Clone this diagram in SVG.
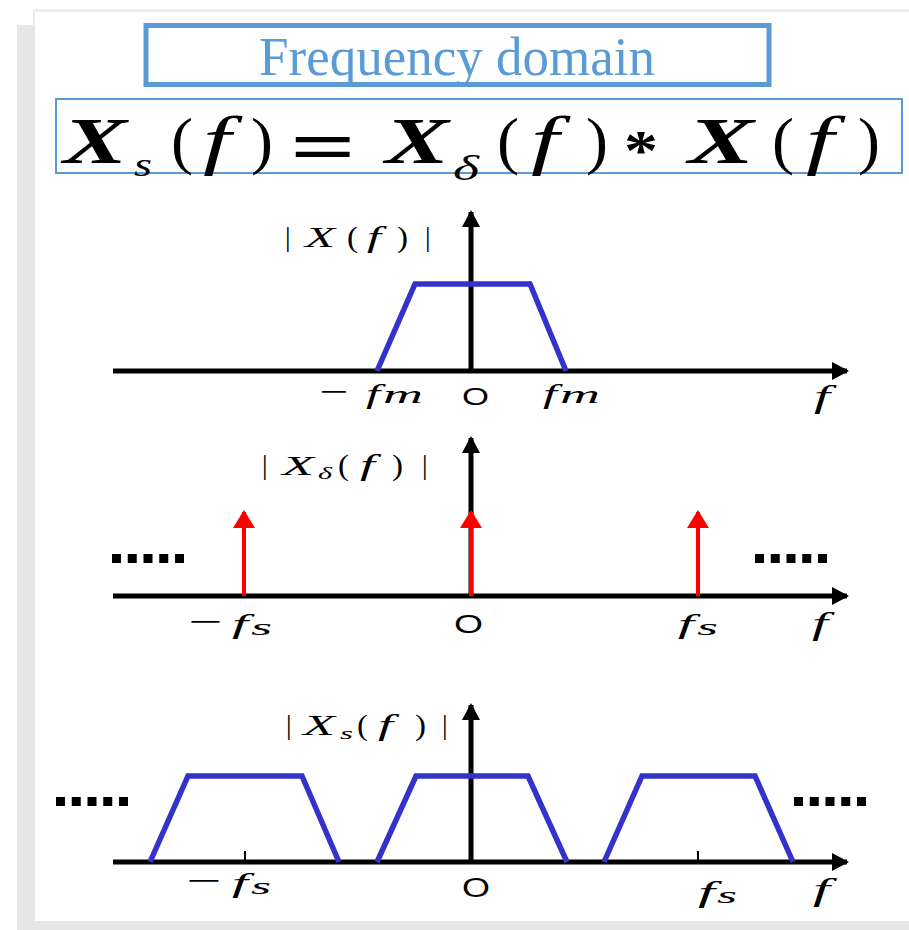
<svg xmlns="http://www.w3.org/2000/svg" width="909" height="930" viewBox="0 0 909 930">
<defs>
<style>
.ax{stroke:#000;stroke-width:5;fill:none}
.tr{stroke:#3333cc;stroke-width:5.5;fill:none;stroke-linejoin:miter}
.imp{stroke:#ff0000;stroke-width:4;fill:none}
.tk{stroke:#000;stroke-width:2}
.m{font-family:'Liberation Serif','Times New Roman',serif;font-style:italic;fill:#000}
.r{font-family:'Liberation Serif','Times New Roman',serif;fill:#000}
.s{font-family:'Liberation Sans',Arial,sans-serif;fill:#000}
.fx{font-family:'Liberation Serif','Times New Roman',serif;font-style:italic;font-weight:bold;fill:#000}
.dots{fill:#000}
</style>
<marker id="ab" markerWidth="18" markerHeight="18" viewBox="0 0 17 18" refX="15" refY="9" orient="auto" markerUnits="userSpaceOnUse">
<path d="M0,0 L17,9 L0,18 z" fill="#000"/>
</marker>
<marker id="ar" markerWidth="22" markerHeight="22" viewBox="0 0 18 22" refX="16" refY="11" orient="auto" markerUnits="userSpaceOnUse">
<path d="M0,0 L18,11 L0,22 z" fill="#ff0000"/>
</marker>
</defs>
<rect x="0" y="0" width="909" height="930" fill="#fff"/>
<g id="background">
<rect x="33" y="9" width="876" height="921" fill="#ebebeb"/>
<rect x="17" y="25" width="892" height="905" fill="#e6e6e6"/>
<rect x="35" y="12" width="874" height="909" fill="#fff"/>
</g>
<g id="title">
<rect x="146" y="25.5" width="623" height="59" fill="none" stroke="#5b9bd5" stroke-width="5"/>
<text x="259" y="75" font-family="'Liberation Serif','Times New Roman',serif" font-size="54" fill="#5b9bd5" textLength="396" lengthAdjust="spacingAndGlyphs">Frequency domain</text>
</g>
<g id="formula">
<rect x="56" y="99" width="846" height="74" fill="none" stroke="#5b9bd5" stroke-width="2"/>
<text class="fx" x="63" y="163" font-size="66" textLength="64" lengthAdjust="spacingAndGlyphs">X</text>
<text class="m" x="134" y="176" font-size="34" textLength="18" lengthAdjust="spacingAndGlyphs">s</text>
<text class="r" x="171" y="162" font-size="64" textLength="22" lengthAdjust="spacingAndGlyphs">(</text>
<text class="m" x="203" y="162" font-size="66" textLength="28" lengthAdjust="spacingAndGlyphs">f</text>
<text class="r" x="251" y="162" font-size="64" textLength="22" lengthAdjust="spacingAndGlyphs">)</text>
<text class="r" x="290" y="172" font-size="74" font-weight="bold" textLength="66" lengthAdjust="spacingAndGlyphs">=</text>
<text class="fx" x="385" y="163" font-size="66" textLength="64" lengthAdjust="spacingAndGlyphs">X</text>
<text class="m" x="453" y="180" font-size="36" textLength="26" lengthAdjust="spacingAndGlyphs">δ</text>
<text class="r" x="497" y="162" font-size="64" textLength="22" lengthAdjust="spacingAndGlyphs">(</text>
<text class="m" x="531" y="162" font-size="66" textLength="28" lengthAdjust="spacingAndGlyphs">f</text>
<text class="r" x="586" y="162" font-size="64" textLength="22" lengthAdjust="spacingAndGlyphs">)</text>
<text class="r" x="624" y="170" font-size="58" font-weight="bold" textLength="34" lengthAdjust="spacingAndGlyphs">*</text>
<text class="fx" x="688" y="163" font-size="66" textLength="66" lengthAdjust="spacingAndGlyphs">X</text>
<text class="r" x="772" y="162" font-size="64" textLength="22" lengthAdjust="spacingAndGlyphs">(</text>
<text class="m" x="806" y="162" font-size="66" textLength="28" lengthAdjust="spacingAndGlyphs">f</text>
<text class="r" x="858" y="162" font-size="64" textLength="22" lengthAdjust="spacingAndGlyphs">)</text>
</g>
<g id="connectors">
<line class="ax" x1="113" y1="371" x2="847" y2="371" marker-end="url(#ab)"/>
<line class="ax" x1="471" y1="371" x2="471" y2="212" marker-end="url(#ab)"/>
<line class="ax" x1="113" y1="596" x2="847" y2="596" marker-end="url(#ab)"/>
<line class="ax" x1="471" y1="596" x2="471" y2="438" marker-end="url(#ab)"/>
<line class="ax" x1="113" y1="862" x2="847" y2="862" marker-end="url(#ab)"/>
<line class="ax" x1="471" y1="862" x2="471" y2="705" marker-end="url(#ab)"/>
<line class="tk" x1="245" y1="851" x2="245" y2="862"/>
<line class="tk" x1="698" y1="851" x2="698" y2="862"/>
<line class="imp" x1="244" y1="596" x2="244" y2="512" marker-end="url(#ar)"/>
<line class="imp" x1="471" y1="596" x2="471" y2="512" marker-end="url(#ar)"/>
<line class="imp" x1="698" y1="596" x2="698" y2="512" marker-end="url(#ar)"/>
</g>
<g id="plot1">
<polyline class="tr" points="377,371 415,284 530,284 566,371"/>
<text class="r" x="285" y="246" font-size="28">|</text>
<text class="m" x="305" y="247" font-size="29" textLength="30" lengthAdjust="spacingAndGlyphs">X</text>
<text class="r" x="347" y="247" font-size="29" textLength="11" lengthAdjust="spacingAndGlyphs">(</text>
<text class="m" x="367" y="247" font-size="29" textLength="14" lengthAdjust="spacingAndGlyphs">f</text>
<text class="r" x="397" y="247" font-size="29" textLength="11" lengthAdjust="spacingAndGlyphs">)</text>
<text class="r" x="425" y="246" font-size="28">|</text>
<text class="r" x="319" y="403" font-size="34" textLength="29" lengthAdjust="spacingAndGlyphs">−</text>
<text class="m" x="366" y="403" font-size="28" textLength="14" lengthAdjust="spacingAndGlyphs">f</text>
<text class="m" x="383" y="403" font-size="25" textLength="40" lengthAdjust="spacingAndGlyphs">m</text>
<text class="s" x="462" y="405" font-size="24" textLength="27" lengthAdjust="spacingAndGlyphs">O</text>
<text class="m" x="543" y="403" font-size="28" textLength="14" lengthAdjust="spacingAndGlyphs">f</text>
<text class="m" x="560" y="403" font-size="25" textLength="40" lengthAdjust="spacingAndGlyphs">m</text>
<text class="m" x="814" y="407" font-size="32" textLength="16" lengthAdjust="spacingAndGlyphs">f</text>
</g>
<g id="plot2">
<text class="r" x="262" y="474" font-size="28">|</text>
<text class="m" x="282" y="475" font-size="28" textLength="32" lengthAdjust="spacingAndGlyphs">X</text>
<text class="m" x="318" y="479" font-size="17" textLength="14" lengthAdjust="spacingAndGlyphs">δ</text>
<text class="r" x="338" y="475" font-size="29" textLength="11" lengthAdjust="spacingAndGlyphs">(</text>
<text class="m" x="360" y="475" font-size="29" textLength="15" lengthAdjust="spacingAndGlyphs">f</text>
<text class="r" x="392" y="475" font-size="29" textLength="11" lengthAdjust="spacingAndGlyphs">)</text>
<text class="r" x="422" y="474" font-size="28">|</text>
<rect class="dots" x="112" y="554" width="9" height="9"/>
<rect class="dots" x="127.75" y="554" width="9" height="9"/>
<rect class="dots" x="143.5" y="554" width="9" height="9"/>
<rect class="dots" x="159.25" y="554" width="9" height="9"/>
<rect class="dots" x="175" y="554" width="9" height="9"/>
<rect class="dots" x="755" y="554" width="9" height="9"/>
<rect class="dots" x="770.75" y="554" width="9" height="9"/>
<rect class="dots" x="786.5" y="554" width="9" height="9"/>
<rect class="dots" x="802.25" y="554" width="9" height="9"/>
<rect class="dots" x="818" y="554" width="9" height="9"/>
<text class="r" x="188" y="633" font-size="34" textLength="34" lengthAdjust="spacingAndGlyphs">−</text>
<text class="m" x="232" y="633" font-size="28" textLength="16" lengthAdjust="spacingAndGlyphs">f</text>
<text class="m" x="251" y="635" font-size="24" textLength="21" lengthAdjust="spacingAndGlyphs">s</text>
<text class="s" x="454" y="633" font-size="25" textLength="29" lengthAdjust="spacingAndGlyphs">O</text>
<text class="m" x="678" y="633" font-size="28" textLength="16" lengthAdjust="spacingAndGlyphs">f</text>
<text class="m" x="697" y="635" font-size="24" textLength="21" lengthAdjust="spacingAndGlyphs">s</text>
<text class="m" x="812" y="634" font-size="32" textLength="16" lengthAdjust="spacingAndGlyphs">f</text>
</g>
<g id="plot3">
<polyline class="tr" points="150,862 188,776 302,776 339,862"/>
<polyline class="tr" points="377,862 416,776 528,776 567,862"/>
<polyline class="tr" points="604,862 642,776 755,776 793,862"/>
<text class="r" x="286" y="734" font-size="28">|</text>
<text class="m" x="303" y="735" font-size="29" textLength="32" lengthAdjust="spacingAndGlyphs">X</text>
<text class="m" x="340" y="739" font-size="17" textLength="13" lengthAdjust="spacingAndGlyphs">s</text>
<text class="r" x="357" y="735" font-size="29" textLength="11" lengthAdjust="spacingAndGlyphs">(</text>
<text class="m" x="378" y="735" font-size="29" textLength="15" lengthAdjust="spacingAndGlyphs">f</text>
<text class="r" x="415" y="735" font-size="29" textLength="11" lengthAdjust="spacingAndGlyphs">)</text>
<text class="r" x="442" y="734" font-size="28">|</text>
<rect class="dots" x="56" y="797" width="9" height="9"/>
<rect class="dots" x="71.75" y="797" width="9" height="9"/>
<rect class="dots" x="87.5" y="797" width="9" height="9"/>
<rect class="dots" x="103.25" y="797" width="9" height="9"/>
<rect class="dots" x="119" y="797" width="9" height="9"/>
<rect class="dots" x="794" y="797" width="9" height="9"/>
<rect class="dots" x="809.75" y="797" width="9" height="9"/>
<rect class="dots" x="825.5" y="797" width="9" height="9"/>
<rect class="dots" x="841.25" y="797" width="9" height="9"/>
<rect class="dots" x="857" y="797" width="9" height="9"/>
<text class="r" x="186" y="892" font-size="34" textLength="35" lengthAdjust="spacingAndGlyphs">−</text>
<text class="m" x="232" y="892" font-size="28" textLength="16" lengthAdjust="spacingAndGlyphs">f</text>
<text class="m" x="251" y="894" font-size="24" textLength="20" lengthAdjust="spacingAndGlyphs">s</text>
<text class="s" x="462" y="897" font-size="27" textLength="28" lengthAdjust="spacingAndGlyphs">O</text>
<text class="m" x="698" y="902" font-size="30" textLength="17" lengthAdjust="spacingAndGlyphs">f</text>
<text class="m" x="717" y="903" font-size="24" textLength="20" lengthAdjust="spacingAndGlyphs">s</text>
<text class="m" x="813" y="900" font-size="32" textLength="17" lengthAdjust="spacingAndGlyphs">f</text>
</g>
</svg>
